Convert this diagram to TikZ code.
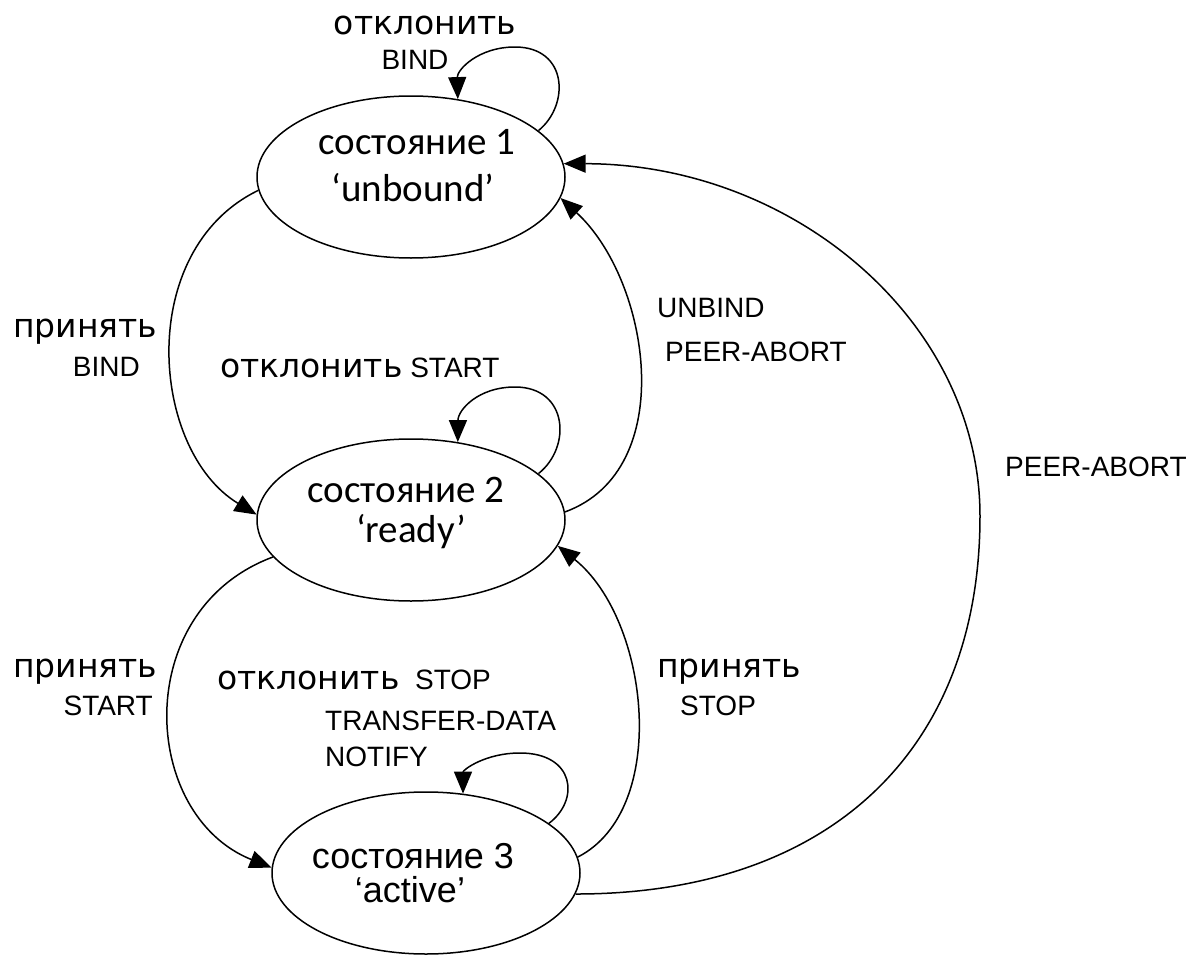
\documentclass[tikz,border=0pt]{standalone}
\usepackage{fontspec}
\setmainfont{Liberation Sans}
\newfontfamily\cyrfont{DejaVu Sans}
\newfontfamily\carfont{Carlito}
\usetikzlibrary{arrows.meta,shapes.geometric}
\newcommand\cyrt[1]{{\cyrfont\fontsize{33}{37}\selectfont #1}}
\begin{document}
\begin{tikzpicture}[x=1pt,y=-1pt,
  state/.style={draw, ellipse, line width=1.5pt, minimum width=308pt, minimum height=162pt, inner sep=0pt},
  edge/.style={line width=1.5pt, -{Triangle[length=22pt,width=18pt]}},
  cyr/.style={font=\cyrfont\fontsize{33}{37}\selectfont, inner sep=0pt},
  lat/.style={font=\fontsize{28}{31}\selectfont, inner sep=0pt},
  stxta/.style={font=\carfont\fontsize{39}{43}\selectfont, inner sep=0pt},
  stxtb/.style={font=\fontsize{36}{40}\selectfont, inner sep=0pt}]
\useasboundingbox (0,0) rectangle (1195,961);
% states
\node[state] (s1) at (411,177) {};
\node[state] (s2) at (411,520) {};
\node[state] (s3) at (426,873) {};
\node[stxta] (t1a) at (417,142) {состояние 1};
\node[stxta] (t1b) at (413,188) {‘unbound’};
\node[stxta] (t2a) at (406,490) {состояние 2};
\node[stxta] (t2b) at (411,532) {‘ready’};
\node[stxtb] (t3a) at (413,856) {состояние 3};
\node[stxtb] (t3b) at (410,890) {‘active’};
% labels
\node[cyr] (l1) at (425,25) {отклонить};
\node[lat] (l2) at (415,60) {BIND};
\node[cyr, anchor=west] (l3) at (13,332) {принять};
\node[lat, anchor=east] (l4) at (140,367) {BIND};
\node[lat, anchor=west] (l5) at (220,368) {\cyrt{отклонить} START};
\node[lat, anchor=west] (l6) at (657,308) {UNBIND};
\node[lat, anchor=west] (l7) at (665,352) {PEER-ABORT};
\node[lat, anchor=west] (l8) at (1005,467) {PEER-ABORT};
\node[cyr, anchor=west] (l9) at (13,672) {принять};
\node[lat, anchor=east] (l10) at (153,706) {START};
\node[lat, anchor=west] (l11) at (217,680) {\cyrt{отклонить}\ \ STOP};
\node[lat, anchor=west] (l12) at (325,721) {TRANSFER-DATA};
\node[lat, anchor=west] (l13) at (325,757) {NOTIFY};
\node[cyr, anchor=west] (l14) at (657,672) {принять};
\node[lat, anchor=west] (l15) at (680,706) {STOP};
% self loops
\draw[edge] (s1.20) .. controls (570,105) and (568,47) .. (515,47)
   .. controls (478,47) and (457,70) .. (s1.59);
\draw[edge] (s2.20) .. controls (572,447) and (568,387) .. (515,387)
   .. controls (478,387) and (458,410) .. (s2.59);
\draw[edge] (s3.22) .. controls (580,800) and (575,753) .. (520,753)
   .. controls (485,753) and (463,770) .. (s3.65);
% transitions
\draw[edge] (s1.185) .. controls (135,250) and (150,450) .. (s2.178);
\draw[edge] (s2.195) .. controls (130,610) and (140,815) .. (s3.178);
\draw[edge] (s2.3) .. controls (680,470) and (650,280) .. (s1.-8);
\draw[edge] (s3.6) .. controls (670,810) and (650,620) .. (s2.-10);
\draw[edge] (s3.-8) .. controls (830,894) and (980,750) .. (980,516)
   .. controls (980,322) and (794,164) .. (s1.5);
\end{tikzpicture}
\end{document}
